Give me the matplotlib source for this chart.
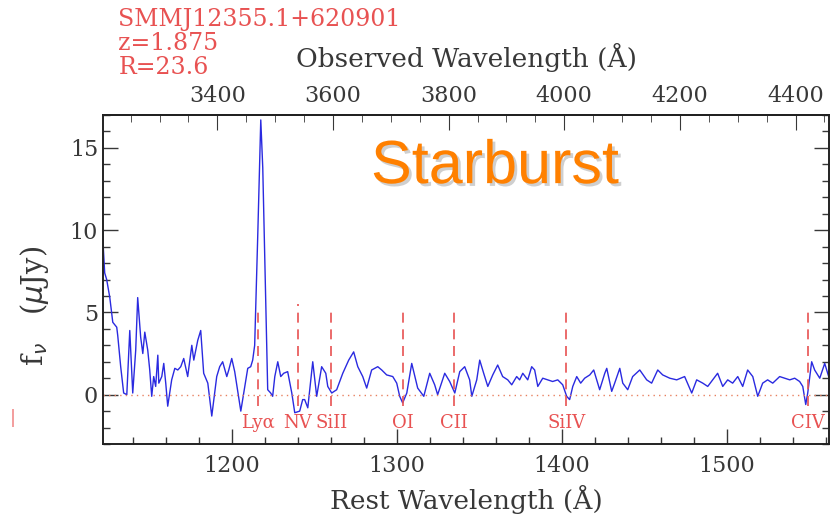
import matplotlib.pyplot as plt
import matplotlib.patheffects as pe
from matplotlib.ticker import MultipleLocator

# spectrum (rest wavelength in Angstrom, flux in microJy)
rest_wave = [1121.8, 1123.0, 1124.2, 1126.1, 1127.9, 1130.3, 1130.9, 1132.7, 1134.5, 1136.4,
             1138.2, 1140.0, 1141.8, 1143.0, 1144.8, 1146.1, 1147.3, 1149.1, 1150.3, 1151.5,
             1152.7, 1153.9, 1155.2, 1155.8, 1157.6, 1158.8, 1160.0, 1161.2, 1163.6, 1165.5,
             1167.3, 1169.1, 1170.9, 1173.3, 1175.8, 1177.0, 1179.4, 1181.2, 1183.0, 1185.5,
             1187.9, 1190.9, 1192.7, 1194.5, 1197.0, 1198.2, 1200.0, 1201.8, 1205.5, 1207.9,
             1209.7, 1211.5, 1212.7, 1213.9, 1215.8, 1217.6, 1218.8, 1220.6, 1221.8, 1223.6,
             1224.8, 1226.1, 1227.9, 1229.7, 1231.5, 1233.9, 1236.4, 1238.2, 1241.2, 1243.0,
             1244.2, 1246.1, 1249.1, 1251.5, 1254.5, 1257.0, 1258.2, 1260.6, 1263.6, 1267.3,
             1270.9, 1273.9, 1276.4, 1279.4, 1281.8, 1284.8, 1288.5, 1290.9, 1293.9, 1297.6,
             1300.0, 1301.8, 1303.6, 1306.1, 1309.1, 1312.7, 1316.4, 1320.0, 1323.0, 1324.8,
             1329.1, 1332.1, 1335.2, 1338.2, 1341.2, 1344.2, 1345.5, 1348.5, 1350.3, 1352.7,
             1355.2, 1358.2, 1361.2, 1364.2, 1367.3, 1369.7, 1372.7, 1374.5, 1376.4, 1379.4,
             1381.8, 1383.6, 1385.5, 1388.5, 1391.5, 1394.5, 1397.6, 1400.6, 1403.0, 1404.8,
             1406.7, 1409.1, 1411.5, 1413.9, 1417.0, 1419.4, 1421.2, 1423.0, 1426.1, 1427.3,
             1430.3, 1432.1, 1435.2, 1437.0, 1440.0, 1443.0, 1447.3, 1451.5, 1454.5, 1458.2,
             1461.2, 1465.5, 1469.7, 1474.5, 1478.8, 1481.8, 1485.5, 1488.5, 1491.5, 1494.5,
             1497.6, 1500.6, 1503.6, 1506.7, 1509.7, 1512.7, 1515.8, 1518.8, 1521.8, 1524.8,
             1527.9, 1532.1, 1535.2, 1538.2, 1541.2, 1544.2, 1546.1, 1547.9, 1549.1, 1551.5,
             1553.3, 1556.4, 1559.4, 1562.4]
flux = [9.6, 7.4, 7.0, 5.9, 4.4, 4.1, 3.6, 1.7, 0.1, 0.0,
        3.9, 0.1, 2.7, 5.9, 3.5, 2.5, 3.8, 2.7, 1.5, -0.1,
        1.1, 0.5, 2.4, 0.7, 1.1, 1.9, 0.7, -0.7, 0.9, 1.6,
        1.5, 1.7, 2.2, 1.1, 3.0, 2.1, 3.3, 3.9, 1.3, 0.7,
        -1.3, 1.1, 1.7, 2.0, 1.1, 1.5, 2.2, 1.4, -1.0, 0.5,
        1.6, 1.7, 2.1, 3.0, 9.8, 16.7, 13.8, 5.8, 0.3, 0.1,
        -0.1, 1.1, 2.0, 1.1, 1.3, 1.4, 0.1, -1.1, -1.0, -0.3,
        -0.3, -0.8, 2.0, -0.1, 1.7, 1.3, 0.5, 0.1, 0.3, 1.3,
        2.1, 2.6, 1.7, 1.1, 0.4, 1.5, 1.7, 1.5, 1.2, 1.1,
        0.7, -0.1, -0.5, 0.1, 1.9, 0.4, -0.1, 1.3, 0.6, 0.0,
        1.3, 0.8, 0.1, 1.4, 1.7, 0.9, -0.1, 0.9, 2.1, 1.3,
        0.5, 1.2, 1.8, 1.1, 0.9, 0.6, 1.1, 0.9, 1.3, 0.9,
        1.7, 1.5, 0.5, 1.0, 0.9, 0.8, 0.9, 0.6, -0.1, -0.3,
        0.5, 1.1, 0.7, 1.0, 1.2, 1.5, 0.9, 0.3, 1.3, 1.6,
        0.2, 0.7, 1.6, 0.7, 0.3, 1.1, 1.5, 0.9, 0.7, 1.5,
        1.2, 1.0, 0.9, 1.1, 0.1, 0.9, 0.7, 0.5, 0.9, 1.3,
        0.5, 0.9, 0.7, 1.1, 0.5, 1.5, 1.1, -0.1, 0.7, 0.9,
        0.7, 1.1, 1.0, 0.9, 1.0, 0.8, 0.5, -0.6, 0.1, 2.0,
        1.5, 1.0, 1.9, 0.9]

line_names = ['Lyα', 'NV', 'SiII', 'OI', 'CII', 'SiIV', 'CIV']
line_waves = [1215.7, 1240.1, 1260.4, 1303.5, 1334.5, 1402.8, 1549.0]
line_tops = [5.0, 5.5, 5.0, 5.0, 5.0, 5.0, 5.0]

obs_ticks = [3400, 3600, 3800, 4000, 4200, 4400]
obs_factor = 2.854  # what the top axis of the picture uses

red = '#e85252'
ink = '#383838'
serif = ['DejaVu Serif']

fig = plt.figure(figsize=(8.33, 5.22), dpi=100)
ax = fig.add_axes([0.1237, 0.1494, 0.8715, 0.6303])

ax.plot(rest_wave, flux, color='#2a2ae0', lw=1.0)
ax.axhline(0, color='#e88060', lw=1.0, ls=(0, (1, 3)))
for w, top, name in zip(line_waves, line_tops, line_names):
    ax.plot([w, w], [-0.7, top], color=red, lw=1.2, ls=(0, (6, 4)))
    ax.text(w, -1.7, name, color=red, ha='center', va='center',
            fontsize=13, family=serif)

ax.set_xlim(1122, 1562)
ax.set_ylim(-3, 17)
ax.xaxis.set_major_locator(MultipleLocator(100))
ax.xaxis.set_minor_locator(MultipleLocator(20))
ax.yaxis.set_major_locator(MultipleLocator(5))
ax.yaxis.set_minor_locator(MultipleLocator(1))
ax.tick_params(which='both', direction='in', right=True, top=False,
               labelsize=16, width=1.0, colors=ink)
ax.tick_params(axis='x', which='major', pad=8)
ax.tick_params(which='major', length=11)
ax.tick_params(which='minor', length=5)
for lab in ax.get_xticklabels() + ax.get_yticklabels():
    lab.set_family(serif)
for sp in ax.spines.values():
    sp.set_linewidth(1.4)
    sp.set_color('#222222')

ax.set_xlabel('Rest Wavelength (Å)', fontsize=19, family=serif, labelpad=6, color=ink)
ax.set_ylabel(r'f$_\nu$   ($\mu$Jy)', fontsize=21, family=serif, color=ink)
ax.yaxis.set_label_coords(-0.072, 0.42)

top = ax.secondary_xaxis('top', functions=(lambda r: r * obs_factor, lambda o: o / obs_factor))
top.set_xticks(obs_ticks)
top.xaxis.set_minor_locator(MultipleLocator(50))
top.tick_params(which='both', direction='in', labelsize=16, colors=ink, pad=6)
top.tick_params(which='major', length=11)
top.tick_params(which='minor', length=5)
for lab in top.get_xticklabels():
    lab.set_family(serif)
top.set_xlabel('Observed Wavelength (Å)', fontsize=19, family=serif, labelpad=13, color=ink)
top.spines['top'].set_linewidth(1.4)

fig.text(0.142, 0.962, 'SMMJ12355.1+620901', color=red, fontsize=17, family=serif, va='center')
fig.text(0.142, 0.916, 'z=1.875', color=red, fontsize=17, family=serif, va='center')
fig.text(0.142, 0.870, 'R=23.6', color=red, fontsize=17, family=serif, va='center')
fig.text(0.012, 0.2, '|', color='#f08080', fontsize=13, va='center')

ax.text(0.54, 0.84, 'Starburst', transform=ax.transAxes, ha='center', va='center',
        fontsize=44, family=['Liberation Sans'], color='#ff8000',
        path_effects=[pe.withSimplePatchShadow(offset=(2, -2), shadow_rgbFace='#888888', alpha=0.4)])

fig.savefig('out.png', dpi=100)
